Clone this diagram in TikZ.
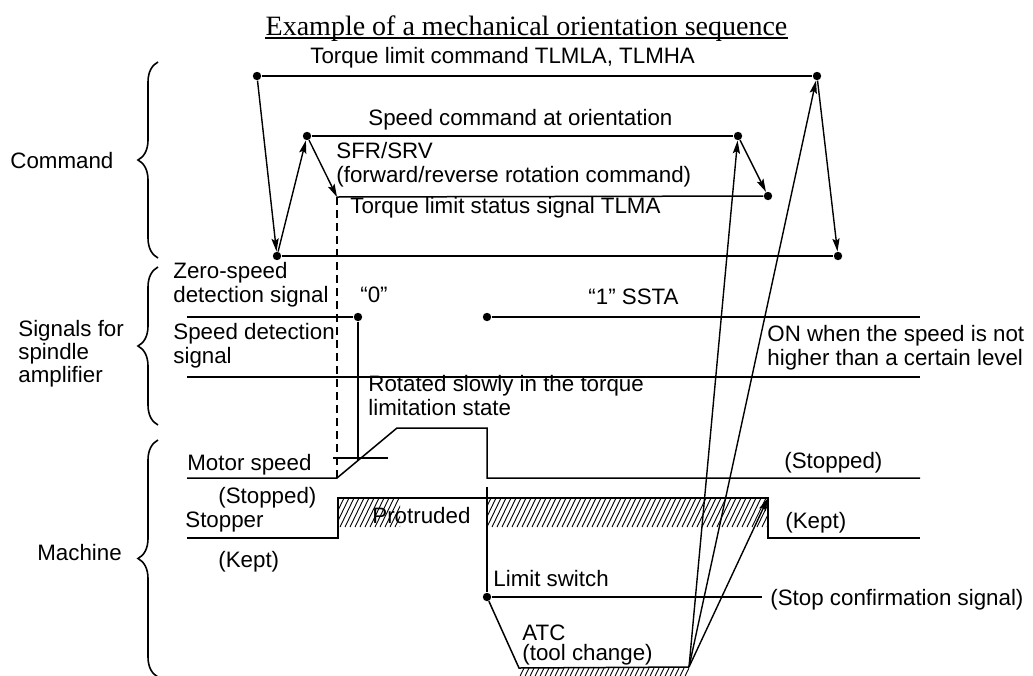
\documentclass[tikz,border=0pt]{standalone}
\usepackage{fontspec}
\setmainfont{Liberation Sans}
\newfontfamily\titlefont{Liberation Serif}
\usetikzlibrary{arrows.meta,decorations.pathreplacing}
\newcommand{\sigfont}{\fontsize{11.16}{12}\selectfont}
\newcommand{\sigtightfont}{\fontsize{11.16}{10}\selectfont}

\begin{document}
\begin{tikzpicture}[
    x=0.5pt, y=-0.5pt,
    wave/.style={line width=0.75pt},
    dot/.style={circle, fill, inner sep=0pt, minimum size=4.2pt},
    lbl/.style={font=\sigfont, inner sep=0pt, anchor=north west, align=left},
    tight/.style={font=\sigtightfont},
    seq/.style={-{Stealth[length=6.5pt, width=3.6pt, inset=1.2pt]}, line width=0.7pt},
    hatchline/.style={line width=0.45pt},
    group/.style={decorate, decoration={brace, amplitude=10pt}, line width=0.8pt}
  ]
  \useasboundingbox (0,0) rectangle (1033,675);

  \node[font=\titlefont\fontsize{14}{16}\selectfont, inner sep=0pt, anchor=base] (title) at (526.5,35) {Example of a mechanical orientation sequence};
  \draw[line width=0.6pt] ([yshift=-1.5pt]title.base west) -- ([yshift=-1.5pt]title.base east);

  % event points
  \node[dot] (tA) at (257,76) {};
  \node[dot] (tB) at (817,76) {};
  \node[dot] (sA) at (307,136) {};
  \node[dot] (sB) at (738,136) {};
  \coordinate (fA) at (337,197);
  \node[dot] (fB) at (768,196) {};
  \node[dot] (tC) at (277,256) {};
  \node[dot] (tD) at (838,256) {};
  \node[dot] (zA) at (358,317) {};
  \node[dot] (zB) at (487,317) {};
  \node[dot] (lA) at (487,597) {};
  \coordinate (apex) at (689,667);
  \coordinate (hk) at (768,498);

  % command lines
  \draw[wave] (tA) -- (tB);
  \draw[wave] (sA) -- (sB);
  \draw[wave] (fA) -- (fB);
  \draw[wave] (tC) -- (tD);
  \draw[wave, dash pattern=on 4pt off 2.5pt] (fA) -- (337,478);

  % spindle amplifier signals
  \draw[wave] (187,317) -- (zA);
  \draw[wave] (zB) -- (920,317);
  \draw[wave] (187,377) -- (920,377);
  \draw[wave] (zA) -- (358,461);
  \draw[wave] (333,458) -- (388,458);

  % machine
  \draw[wave] (187,478) -- (337,478) -- (397,428) -- (487,428) -- (487,478) -- (920,478);
  \draw[wave] (187,538) -- (338,538) -- (338,498) -- (hk) -- (768,538) -- (920,538);
  \draw[wave] (487,487) -- (lA) -- (762,597);
  \draw[wave] (lA) -- (519,668) -- (apex);
  \begin{scope}
    \clip (338,498) rectangle (400,527);
    \foreach \h in {320,325,...,400} \draw[hatchline] (\h,527) -- ++(14,-29);
  \end{scope}
  \begin{scope}
    \clip (487,498) rectangle (768,527);
    \foreach \h in {472,477,...,768} \draw[hatchline] (\h,527) -- ++(14,-29);
  \end{scope}
  \begin{scope}
    \clip (519,668) rectangle (689,680);
    \foreach \h in {505,510,...,690} \draw[hatchline] (\h,697) -- ++(14,-29);
  \end{scope}

  % sequence arrows
  \draw[seq] (tA) -- (tC);
  \draw[seq] (tC) -- (sA);
  \draw[seq] (sA) -- (fA);
  \draw[seq] (sB) -- (fB);
  \draw[seq] (tB) -- (tD);
  \draw[seq] (apex) -- (sB);
  \draw[seq] (apex) -- (tB);
  \draw[seq] (apex) -- (hk);

  % groups
  \draw[group] (158,258) -- (158,62);
  \draw[group] (158,425) -- (158,267);
  \draw[group] (158,677) -- (158,440);
  \node[lbl] (cmd) at (10,152) {Command};
  \node[lbl, tight] (sigamp) at (18,320) {Signals for\\spindle\\amplifier};
  \node[lbl] (mach) at (37,544) {Machine};

  % labels
  \node[lbl] (tlmcmd) at (310,47) {Torque limit command TLMLA, TLMHA};
  \node[lbl] (spdcmd) at (368,109) {Speed command at orientation};
  \node[lbl] (sfr) at (336,142) {SFR/SRV\\(forward/reverse rotation command)};
  \node[lbl] (tlma) at (350,197) {Torque limit status signal TLMA};
  \node[lbl] (zero) at (173,262) {Zero-speed\\detection signal};
  \node[lbl] (zlow) at (360,287) {``0''};
  \node[lbl] (zhigh) at (588,289) {``1'' SSTA};
  \node[lbl] (spdet) at (173,323) {Speed detection\\signal};
  \node[lbl] (onnote) at (767,325) {ON when the speed is not\\higher than a certain level};
  \node[lbl] (slow) at (368,375) {Rotated slowly in the torque\\limitation state};
  \node[lbl] (motor) at (187,454) {Motor speed};
  \node[lbl] (mstop) at (784,452) {(Stopped)};
  \node[lbl] (sstop) at (218,487) {(Stopped)};
  \node[lbl] (stopper) at (185,512) {Stopper};
  \node[lbl] (prot) at (372,507) {Protruded};
  \node[lbl] (kept2) at (785,512) {(Kept)};
  \node[lbl] (kept1) at (218,551) {(Kept)};
  \node[lbl] (limsw) at (493,570) {Limit switch};
  \node[lbl] (stopconf) at (770,589) {(Stop confirmation signal)};
  \node[lbl, tight] (atc) at (522,625) {ATC\\(tool change)};
\end{tikzpicture}
\end{document}
